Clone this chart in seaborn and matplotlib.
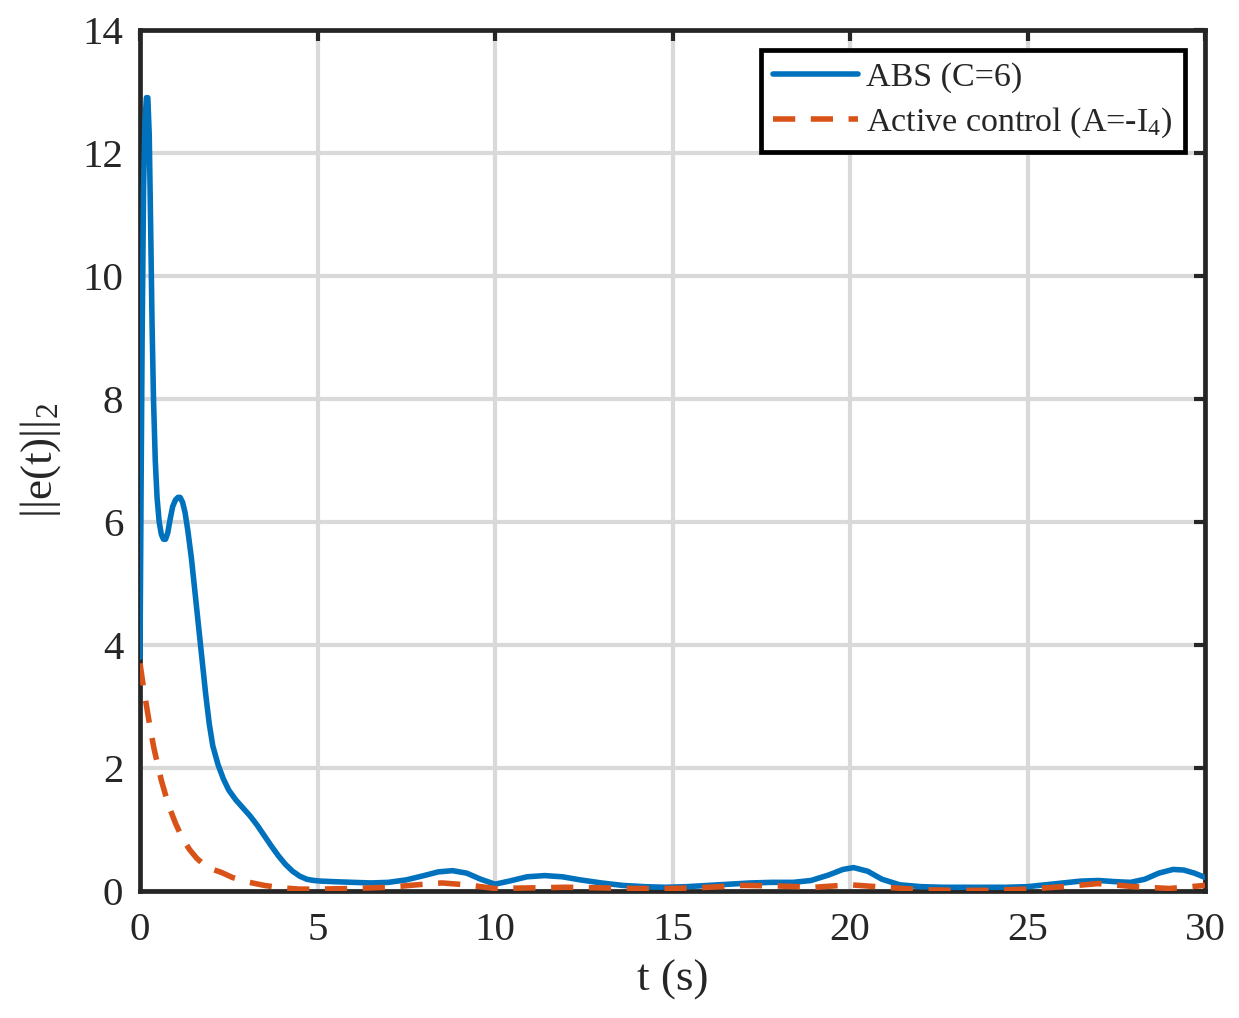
import numpy as np
import pandas as pd
import matplotlib
matplotlib.use('Agg')
import matplotlib.pyplot as plt
import seaborn as sns

# time / error norm for ABS controller (C=6)
t_abs = [0, 0.03, 0.06, 0.1, 0.14, 0.18, 0.22, 0.26, 0.3, 0.34, 0.38, 0.43, 0.48,
         0.54, 0.6, 0.66, 0.72, 0.78, 0.85, 0.92, 1.0, 1.07, 1.13, 1.2, 1.27, 1.35,
         1.45, 1.55, 1.65, 1.75, 1.85, 1.95, 2.05, 2.2, 2.35, 2.5, 2.7, 2.9, 3.1,
         3.3, 3.5, 3.7, 3.9, 4.1, 4.3, 4.5, 4.7, 4.9, 5.1, 5.5, 6.0, 6.5, 7.0, 7.5,
         8.0, 8.4, 8.8, 9.2, 9.6, 10.0, 10.4, 10.9, 11.4, 11.9, 12.4, 13.0, 13.6,
         14.2, 14.8, 15.4, 16.0, 16.6, 17.2, 17.8, 18.4, 18.9, 19.4, 19.8, 20.1,
         20.5, 20.9, 21.4, 22.0, 22.6, 23.2, 23.8, 24.4, 25.0, 25.5, 26.0, 26.5,
         27.0, 27.5, 27.9, 28.3, 28.7, 29.1, 29.4, 29.7, 30.0]
e_abs = [3.8, 6.5, 9.0, 11.4, 12.5, 12.9, 12.9, 12.3, 10.8, 9.2, 8.0, 7.0, 6.4,
         6.0, 5.8, 5.72, 5.72, 5.82, 6.05, 6.25, 6.36, 6.4, 6.4, 6.32, 6.15, 5.85,
         5.4, 4.85, 4.3, 3.75, 3.2, 2.72, 2.36, 2.05, 1.82, 1.64, 1.48, 1.35, 1.22,
         1.07, 0.9, 0.73, 0.57, 0.43, 0.32, 0.24, 0.19, 0.17, 0.16, 0.15, 0.14,
         0.13, 0.14, 0.18, 0.25, 0.31, 0.33, 0.29, 0.19, 0.11, 0.16, 0.23, 0.25,
         0.23, 0.18, 0.13, 0.09, 0.07, 0.06, 0.07, 0.09, 0.11, 0.13, 0.14, 0.14,
         0.17, 0.26, 0.35, 0.38, 0.32, 0.19, 0.1, 0.07, 0.06, 0.06, 0.06, 0.06,
         0.07, 0.1, 0.13, 0.16, 0.17, 0.15, 0.14, 0.19, 0.29, 0.35, 0.34, 0.29, 0.22]

# active control (A=-I4)
t_act = [0, 0.1, 0.2, 0.3, 0.4, 0.5, 0.6, 0.8, 1.0, 1.2, 1.4, 1.6, 1.8, 2.0, 2.3,
         2.6, 3.0, 3.5, 4.0, 4.5, 5.0, 6.0, 7.0, 7.8, 8.5, 9.2, 10.0, 11.0, 12.0,
         13.0, 14.0, 15.0, 16.0, 17.0, 18.0, 19.0, 20.0, 21.0, 22.0, 23.0, 24.0,
         25.0, 26.0, 27.0, 28.0, 29.0, 30.0]
e_act = [3.7, 3.3, 2.95, 2.6, 2.3, 2.05, 1.8, 1.4, 1.1, 0.85, 0.67, 0.53, 0.43,
         0.36, 0.3, 0.22, 0.15, 0.09, 0.05, 0.03, 0.03, 0.04, 0.06, 0.1, 0.13,
         0.1, 0.04, 0.05, 0.06, 0.05, 0.04, 0.04, 0.06, 0.09, 0.08, 0.06, 0.1,
         0.06, 0.02, 0.01, 0.01, 0.03, 0.07, 0.12, 0.07, 0.04, 0.09]

labels = ['ABS (C=6)', r'Active control (A=-I$_\mathrm{4}$)']
x_ticks = [0, 5, 10, 15, 20, 25, 30]
y_ticks = [0, 2, 4, 6, 8, 10, 12, 14]

sns.set_style('white')
plt.rcParams['font.family'] = ['Liberation Serif', 'DejaVu Serif']
plt.rcParams['mathtext.fontset'] = 'custom'
plt.rcParams['mathtext.rm'] = 'Liberation Serif'
plt.rcParams['mathtext.it'] = 'Liberation Serif:italic'

fig = plt.figure(figsize=(12.39, 10.18), dpi=100)
ax = fig.add_axes([0.113, 0.1248, 0.8596, 0.8457])

abs_df = pd.DataFrame({'t': t_abs, 'e': e_abs})
act_df = pd.DataFrame({'t': t_act, 'e': e_act})

sns.lineplot(data=abs_df, x='t', y='e', ax=ax, color='#0072BD', linewidth=4.0,
             label=labels[0], zorder=3)
sns.lineplot(data=act_df, x='t', y='e', ax=ax, color='#D95319', linewidth=4.0,
             label=labels[1], zorder=4)
ax.lines[1].set_dashes([4.0, 2.8])

ax.set_xlim(0, 30)
ax.set_ylim(0, 14)
ax.set_xticks(x_ticks)
ax.set_yticks(y_ticks)
ax.grid(True, color='#d9d9d9', linewidth=3)
ax.set_axisbelow(True)

for sp in ax.spines.values():
    sp.set_visible(True)
    sp.set_color('#262626')
    sp.set_linewidth(3.4)

ax.tick_params(direction='in', length=8, width=3, color='#262626',
               labelsize=29.5, labelcolor='#262626', top=True, right=True, pad=12)
ax.tick_params(axis='x', pad=15)

ax.set_xlabel('t (s)', fontsize=32.5, color='#262626', labelpad=8)
ax.set_ylabel(r'$\mathrm{||e(t)||}_\mathrm{2}$', fontsize=32.5, color='#262626', labelpad=14)

leg = ax.legend(loc='upper right', fontsize=24.5, frameon=True, fancybox=False,
                framealpha=1, edgecolor='#000000', handlelength=2.5,
                borderpad=0.35, labelspacing=0.35, handletextpad=0.25,
                borderaxespad=0.6)
leg.get_frame().set_linewidth(3.4)

fig.savefig('out.png', dpi=100)
